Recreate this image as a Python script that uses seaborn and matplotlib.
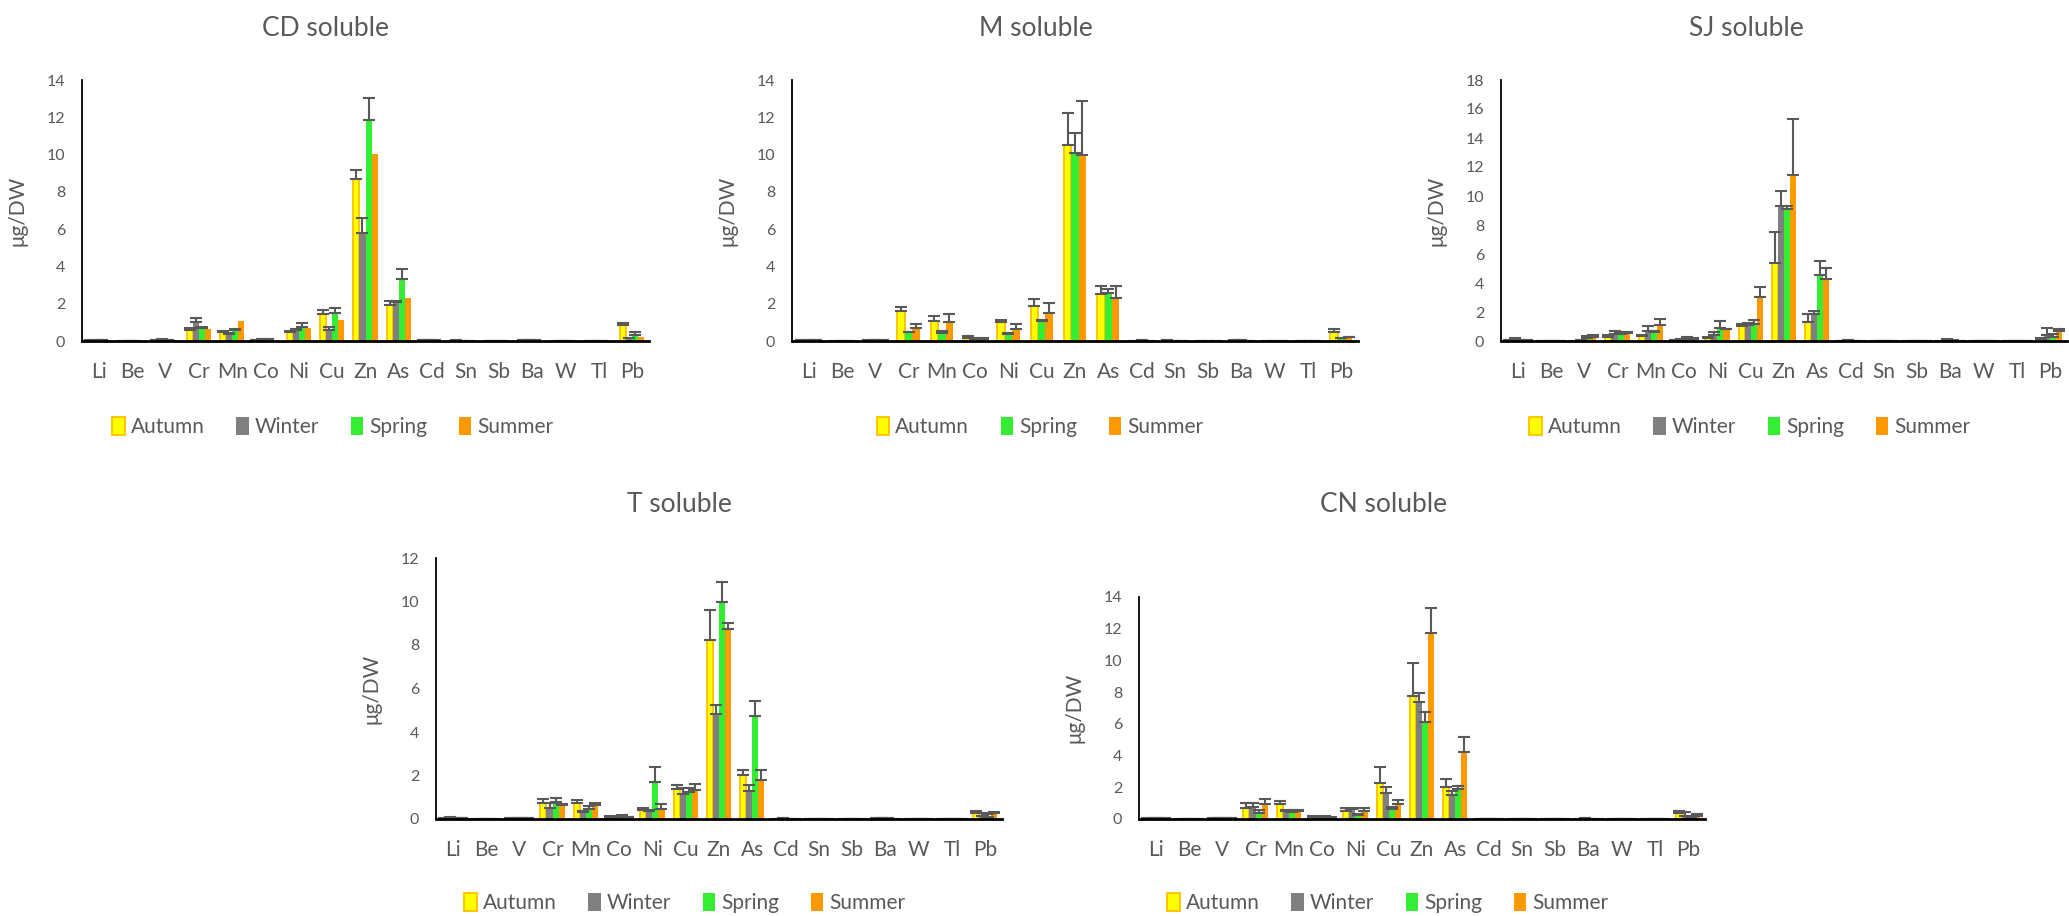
import numpy as np
import pandas as pd
import matplotlib
matplotlib.use("Agg")
import matplotlib.pyplot as plt
import seaborn as sns
from matplotlib.patches import Patch

# ---------------------------------------------------------------- data
ELEMENTS = ["Li", "Be", "V", "Cr", "Mn", "Co", "Ni", "Cu", "Zn", "As",
            "Cd", "Sn", "Sb", "Ba", "W", "Tl", "Pb"]

# CD site
CD_AUTUMN = [0.02, 0.01, 0.04, 0.60, 0.48, 0.05, 0.50, 1.43, 8.69, 1.91, 0.03, 0.02, 0.01, 0.04, 0.01, 0.01, 0.86]
CD_AUTUMN_SD = [0.02, 0.00, 0.01, 0.08, 0.06, 0.02, 0.04, 0.23, 0.47, 0.25, 0.01, 0.01, 0.00, 0.01, 0.00, 0.00, 0.12]
CD_WINTER = [0.05, 0.01, 0.07, 1.04, 0.40, 0.08, 0.59, 0.60, 5.81, 2.11, 0.05, 0.02, 0.01, 0.06, 0.01, 0.01, 0.14]
CD_WINTER_SD = [0.02, 0.00, 0.02, 0.21, 0.02, 0.04, 0.05, 0.15, 0.79, 0.04, 0.01, 0.00, 0.00, 0.01, 0.00, 0.00, 0.04]
CD_SPRING = [0.05, 0.01, 0.07, 0.68, 0.58, 0.10, 0.73, 1.52, 11.86, 3.33, 0.05, 0.02, 0.01, 0.05, 0.01, 0.01, 0.32]
CD_SPRING_SD = [0.01, 0.00, 0.01, 0.09, 0.06, 0.03, 0.22, 0.23, 1.18, 0.53, 0.01, 0.00, 0.00, 0.01, 0.00, 0.00, 0.14]
CD_SUMMER = [0.03, 0.01, 0.03, 0.63, 1.09, 0.06, 0.68, 1.13, 10.05, 2.29, 0.02, 0.01, 0.01, 0.03, 0.01, 0.01, 0.20]

# M site (no winter sampling)
M_AUTUMN = [0.03, 0.01, 0.04, 1.61, 1.09, 0.18, 1.04, 1.90, 10.50, 2.50, 0.02, 0.04, 0.01, 0.07, 0.01, 0.01, 0.50]
M_AUTUMN_SD = [0.01, 0.00, 0.01, 0.21, 0.27, 0.07, 0.07, 0.35, 1.72, 0.45, 0.00, 0.01, 0.00, 0.01, 0.00, 0.00, 0.16]
M_SPRING = [0.05, 0.01, 0.05, 0.47, 0.45, 0.10, 0.39, 1.07, 10.07, 2.59, 0.03, 0.02, 0.01, 0.04, 0.01, 0.01, 0.14]
M_SPRING_SD = [0.01, 0.00, 0.01, 0.03, 0.09, 0.04, 0.06, 0.04, 1.11, 0.22, 0.00, 0.00, 0.00, 0.01, 0.00, 0.00, 0.01]
M_SUMMER = [0.04, 0.01, 0.03, 0.68, 1.04, 0.11, 0.63, 1.52, 9.98, 2.33, 0.02, 0.01, 0.01, 0.02, 0.01, 0.01, 0.20]
M_SUMMER_SD = [0.01, 0.00, 0.01, 0.25, 0.41, 0.03, 0.28, 0.54, 2.90, 0.64, 0.00, 0.00, 0.00, 0.00, 0.00, 0.00, 0.03]

# SJ site
SJ_AUTUMN = [0.05, 0.01, 0.02, 0.30, 0.32, 0.05, 0.18, 1.03, 5.38, 1.33, 0.02, 0.02, 0.01, 0.03, 0.01, 0.01, 0.12]
SJ_AUTUMN_SD = [0.01, 0.00, 0.01, 0.14, 0.12, 0.01, 0.10, 0.12, 2.14, 0.51, 0.00, 0.00, 0.00, 0.00, 0.00, 0.00, 0.11]
SJ_WINTER = [0.12, 0.01, 0.05, 0.46, 0.69, 0.10, 0.41, 1.10, 9.33, 1.86, 0.05, 0.02, 0.01, 0.08, 0.01, 0.01, 0.41]
SJ_WINTER_SD = [0.06, 0.00, 0.01, 0.21, 0.32, 0.03, 0.23, 0.12, 1.04, 0.19, 0.01, 0.00, 0.00, 0.04, 0.00, 0.00, 0.51]
SJ_SPRING = [0.07, 0.01, 0.18, 0.48, 0.60, 0.14, 0.92, 1.17, 9.10, 4.53, 0.03, 0.02, 0.01, 0.04, 0.01, 0.01, 0.25]
SJ_SPRING_SD = [0.02, 0.00, 0.16, 0.12, 0.07, 0.14, 0.46, 0.30, 0.23, 1.01, 0.00, 0.00, 0.00, 0.01, 0.00, 0.00, 0.21]
SJ_SUMMER = [0.05, 0.01, 0.25, 0.53, 1.10, 0.14, 0.83, 3.03, 11.45, 4.25, 0.02, 0.02, 0.01, 0.03, 0.01, 0.01, 0.71]
SJ_SUMMER_SD = [0.01, 0.00, 0.14, 0.07, 0.39, 0.09, 0.01, 0.69, 3.88, 0.76, 0.00, 0.00, 0.00, 0.00, 0.00, 0.00, 0.12]

# T site
T_AUTUMN = [0.03, 0.01, 0.03, 0.75, 0.73, 0.06, 0.41, 1.38, 8.21, 2.04, 0.02, 0.02, 0.01, 0.03, 0.01, 0.01, 0.28]
T_AUTUMN_SD = [0.01, 0.00, 0.01, 0.18, 0.14, 0.06, 0.08, 0.20, 1.39, 0.21, 0.00, 0.00, 0.00, 0.00, 0.00, 0.00, 0.09]
T_WINTER = [0.06, 0.01, 0.04, 0.49, 0.34, 0.06, 0.35, 1.16, 4.84, 1.29, 0.03, 0.02, 0.01, 0.04, 0.01, 0.01, 0.15]
T_WINTER_SD = [0.01, 0.00, 0.01, 0.23, 0.01, 0.02, 0.06, 0.25, 0.40, 0.26, 0.00, 0.00, 0.00, 0.01, 0.00, 0.00, 0.11]
T_SPRING = [0.05, 0.01, 0.04, 0.77, 0.46, 0.09, 1.70, 1.23, 9.98, 4.75, 0.02, 0.02, 0.01, 0.03, 0.01, 0.01, 0.11]
T_SPRING_SD = [0.01, 0.00, 0.01, 0.21, 0.12, 0.11, 0.70, 0.18, 0.92, 0.69, 0.00, 0.00, 0.00, 0.00, 0.00, 0.00, 0.10]
T_SUMMER = [0.04, 0.01, 0.03, 0.64, 0.64, 0.08, 0.47, 1.33, 8.74, 1.79, 0.01, 0.02, 0.01, 0.02, 0.01, 0.01, 0.26]
T_SUMMER_SD = [0.01, 0.00, 0.01, 0.06, 0.09, 0.02, 0.22, 0.26, 0.28, 0.45, 0.00, 0.00, 0.00, 0.00, 0.00, 0.00, 0.04]

# CN site
CN_AUTUMN = [0.03, 0.01, 0.04, 0.71, 0.92, 0.10, 0.53, 2.25, 7.77, 2.00, 0.02, 0.01, 0.01, 0.03, 0.01, 0.01, 0.36]
CN_AUTUMN_SD = [0.01, 0.00, 0.01, 0.32, 0.21, 0.07, 0.16, 1.01, 2.08, 0.52, 0.00, 0.00, 0.00, 0.00, 0.00, 0.00, 0.14]
CN_WINTER = [0.06, 0.01, 0.05, 0.74, 0.53, 0.08, 0.61, 1.62, 7.37, 1.51, 0.03, 0.01, 0.01, 0.05, 0.01, 0.01, 0.21]
CN_WINTER_SD = [0.01, 0.00, 0.01, 0.29, 0.06, 0.02, 0.10, 0.42, 0.57, 0.28, 0.00, 0.00, 0.00, 0.01, 0.00, 0.00, 0.23]
CN_SPRING = [0.04, 0.01, 0.05, 0.40, 0.42, 0.06, 0.25, 0.65, 6.09, 1.89, 0.02, 0.01, 0.01, 0.03, 0.01, 0.01, 0.05]
CN_SPRING_SD = [0.01, 0.00, 0.01, 0.17, 0.17, 0.11, 0.09, 0.11, 0.63, 0.19, 0.00, 0.00, 0.00, 0.00, 0.00, 0.00, 0.02]
CN_SUMMER = [0.03, 0.01, 0.04, 0.95, 0.50, 0.08, 0.53, 0.92, 11.72, 4.22, 0.02, 0.01, 0.01, 0.02, 0.01, 0.01, 0.17]
CN_SUMMER_SD = [0.01, 0.00, 0.01, 0.31, 0.09, 0.02, 0.14, 0.28, 1.56, 0.93, 0.00, 0.00, 0.00, 0.00, 0.00, 0.00, 0.17]

# ---------------------------------------------------------------- style
SEASON_COLORS = {"Autumn": "#FFFF00", "Winter": "#808080",
                 "Spring": "#33EE33", "Summer": "#FF9900"}
AUTUMN_EDGE = "#FFC000"
TEXT_GREY = "#595959"
ERR_GREY = "#595959"

sns.set_theme(style="white")
plt.rcParams["font.family"] = ["Lato", "DejaVu Sans"]

W, H = 2069, 916
fig = plt.figure(figsize=(W / 100, H / 100), dpi=100)

# each panel: title, {season: (means, sd or None)}, y max,
# plot box in pixels (left, top, right, bottom), title/legend centres
PANELS = [
    ("CD soluble",
     {"Autumn": (CD_AUTUMN, CD_AUTUMN_SD), "Winter": (CD_WINTER, CD_WINTER_SD),
      "Spring": (CD_SPRING, CD_SPRING_SD), "Summer": (CD_SUMMER, None)},
     14, (82, 80, 649, 341), (325, 28), (333, 427)),
    ("M soluble",
     {"Autumn": (M_AUTUMN, M_AUTUMN_SD), "Spring": (M_SPRING, M_SPRING_SD),
      "Summer": (M_SUMMER, M_SUMMER_SD)},
     14, (792, 80, 1358, 341), (1036, 28), (1040, 427)),
    ("SJ soluble",
     {"Autumn": (SJ_AUTUMN, SJ_AUTUMN_SD), "Winter": (SJ_WINTER, SJ_WINTER_SD),
      "Spring": (SJ_SPRING, SJ_SPRING_SD), "Summer": (SJ_SUMMER, SJ_SUMMER_SD)},
     18, (1501, 80, 2067, 341), (1746, 28), (1750, 427)),
    ("T soluble",
     {"Autumn": (T_AUTUMN, T_AUTUMN_SD), "Winter": (T_WINTER, T_WINTER_SD),
      "Spring": (T_SPRING, T_SPRING_SD), "Summer": (T_SUMMER, T_SUMMER_SD)},
     12, (436, 558, 1002, 819), (679, 505), (685, 903)),
    ("CN soluble",
     {"Autumn": (CN_AUTUMN, CN_AUTUMN_SD), "Winter": (CN_WINTER, CN_WINTER_SD),
      "Spring": (CN_SPRING, CN_SPRING_SD), "Summer": (CN_SUMMER, CN_SUMMER_SD)},
     14, (1139, 597, 1705, 819), (1384, 505), (1388, 903)),
]

for title, series, ymax, box, title_xy, legend_xy in PANELS:
    left, top, right, bottom = box
    ax = fig.add_axes([left / W, 1 - bottom / H, (right - left) / W, (bottom - top) / H])

    seasons = list(series.keys())
    df = pd.DataFrame([
        {"element": el, "season": s, "value": v}
        for s in seasons for el, v in zip(ELEMENTS, series[s][0])
    ])
    n = len(seasons)
    sns.barplot(data=df, x="element", y="value", hue="season",
                order=ELEMENTS, hue_order=seasons,
                palette=[SEASON_COLORS[s] for s in seasons],
                width=n / (n + 1.5), errorbar=None, saturation=1,
                linewidth=0, legend=False, ax=ax)

    # one container per season, in hue order
    for s, cont in zip(seasons, ax.containers):
        if s == "Autumn":
            for bar in cont:
                bar.set_edgecolor(AUTUMN_EDGE)
                bar.set_linewidth(1.3)
        sd = series[s][1]
        if sd is None:
            continue
        xs = [b.get_x() + b.get_width() / 2 for b in cont]
        ys = [b.get_height() for b in cont]
        ax.errorbar(xs, ys, yerr=[np.zeros(len(sd)), sd], fmt="none",
                    ecolor=ERR_GREY, elinewidth=1.5, capsize=4, capthick=1.5,
                    zorder=3)

    ax.set_xlim(-0.5, len(ELEMENTS) - 0.5)
    ax.set_ylim(0, ymax)
    ax.set_yticks(np.arange(0, ymax + 1, 2))
    ax.set_xlabel("")
    ax.set_ylabel("μg/DW", fontsize=15, color=TEXT_GREY)
    ax.yaxis.set_label_coords(-0.097, 0.5)

    for side in ("top", "right"):
        ax.spines[side].set_visible(False)
    ax.spines["left"].set_color("black")
    ax.spines["left"].set_linewidth(1.3)
    ax.spines["bottom"].set_color("black")
    ax.spines["bottom"].set_linewidth(2.0)
    ax.spines["bottom"].set_zorder(4)

    ax.tick_params(axis="x", length=0, pad=15, labelsize=15, labelcolor=TEXT_GREY)
    ax.tick_params(axis="y", length=0, pad=12, labelsize=11.5, labelcolor=TEXT_GREY)

    fig.text(title_xy[0] / W, 1 - title_xy[1] / H, title, ha="center", va="center",
             fontsize=19, color=TEXT_GREY)

    handles = [Patch(facecolor=SEASON_COLORS[s],
                     edgecolor=AUTUMN_EDGE if s == "Autumn" else SEASON_COLORS[s],
                     linewidth=1.3 if s == "Autumn" else 0)
               for s in seasons]
    fig.legend(handles, seasons, loc="center",
               bbox_to_anchor=(legend_xy[0] / W, 1 - legend_xy[1] / H),
               ncol=n, frameon=False, fontsize=15, labelcolor=TEXT_GREY,
               handlelength=0.6, handleheight=0.95, handletextpad=0.3,
               columnspacing=1.5, borderpad=0)

fig.savefig("out.png", dpi=100, facecolor="white")
